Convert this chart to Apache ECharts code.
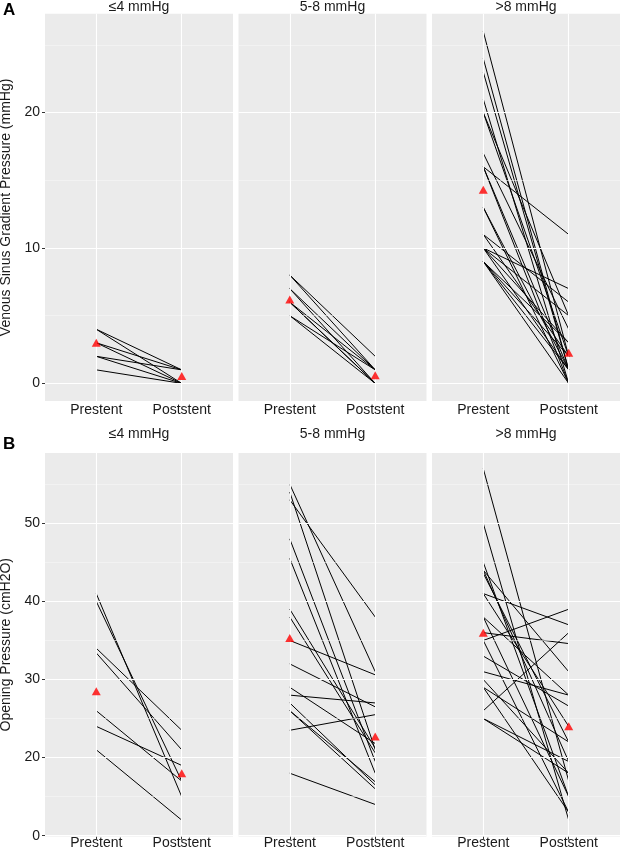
<!DOCTYPE html>
<html><head><meta charset="utf-8">
<script src="https://cdn.jsdelivr.net/npm/echarts@6/dist/echarts.min.js"></script>
<style>html,body{margin:0;padding:0;background:#fff}#c{width:622px;height:851px}</style>
</head><body><div id="c"></div>
<script>
// ---- data ----
const categories = ['Prestent', 'Poststent'];
const groups = ['≤4 mmHg', '5-8 mmHg', '>8 mmHg'];

// A: venous sinus gradient pressure (mmHg)
const vsgTicks = [0, 10, 20];
const vsgTickLabels = ['0', '10', '20'];
const vsgMinor = [5, 15, 25];
const vsgLowPre   = [4, 4, 3, 3, 2, 2, 1];
const vsgLowPost  = [1, 0, 1, 0, 1, 0, 0];
const vsgMidPre   = [8, 8, 7, 7, 6, 6, 6, 5, 5];
const vsgMidPost  = [2, 1, 1, 0, 1, 0, 0, 1, 0];
const vsgHighPre  = [26, 24, 23, 21, 20, 20, 17, 16, 16, 16, 13, 13, 11, 11, 10, 10, 10, 10, 9, 9, 9, 9];
const vsgHighPost = [2, 1, 1, 0, 2, 5, 4, 11, 1, 0, 0, 1, 6, 2, 7, 5, 1, 3, 3, 0, 1, 2];
const vsgMeanPre  = [3.0, 6.2, 14.3];
const vsgMeanPost = [0.55, 0.6, 2.26];

// B: opening pressure (cmH2O)
const opTicks = [10, 20, 30, 40, 50];
const opTickLabels = ['0', '20', '30', '40', '50'];
const opMinor = [15, 25, 35, 45, 55];
const opLowPre   = [41, 40, 34, 33.4, 26, 24, 21];
const opLowPost  = [15, 17, 23.5, 21, 17, 19, 12];
const opMidPre   = [55, 54, 53, 48, 45.5, 39, 38, 35, 32, 29, 28, 27, 26, 26, 23.5, 18];
const opMidPost  = [31, 21, 38, 19.5, 18, 21.2, 20.6, 30.6, 26.5, 21.8, 27, 16.5, 16, 16.9, 25.5, 14];
const opHighPre  = [57, 50, 45, 44, 44, 43.6, 41, 41, 38, 38, 36, 35, 35, 33, 31, 30, 29, 29, 26, 25, 25];
const opHighPost = [17, 12, 15, 19.5, 31, 22, 37, 24, 28, 15, 34.6, 39, 13, 26.6, 28, 18, 13, 22, 36, 18, 19.5];
const opMeanPre  = [28.5, 35.3, 36.0];
const opMeanPost = [18.0, 22.7, 24.0];

// ---- layout ----
const FONT = '"Liberation Sans", Arial, Helvetica, sans-serif';
const TXT = '#1a1a1a';
const FS = 14;
const colLeft = [45, 238.5, 432];
const panelW = 188;
const rows = [
  { top: 13.8, height: 387.2, min: -1.3, max: 27.3, ticks: vsgTicks, labels: vsgTickLabels, minor: vsgMinor,
    name: 'Venous Sinus Gradient Pressure (mmHg)', xMargin: 2,
    pre: [vsgLowPre, vsgMidPre, vsgHighPre], post: [vsgLowPost, vsgMidPost, vsgHighPost],
    meanPre: vsgMeanPre, meanPost: vsgMeanPost, stripY: 7.5, letter: 'A', letterY: 10 },
  { top: 453, height: 383.5, min: 9.9, max: 59.0, ticks: opTicks, labels: opTickLabels, minor: opMinor,
    name: 'Opening Pressure (cmH2O)', xMargin: 0,
    pre: [opLowPre, opMidPre, opHighPre], post: [opLowPost, opMidPost, opHighPost],
    meanPre: opMeanPre, meanPost: opMeanPost, stripY: 434, letter: 'B', letterY: 444 }
];

const grid = [], xAxis = [], yAxis = [], series = [], graphic = [];
rows.forEach((row, r) => {
  graphic.push({ type: 'text', x: 3, y: row.letterY,
    style: { text: row.letter, font: 'bold 17px ' + FONT, fill: '#000', textAlign: 'left', textVerticalAlign: 'middle', align: 'left', verticalAlign: 'middle' } });
  for (let c = 0; c < 3; c++) {
    const g = r * 3 + c;
    grid.push({ left: colLeft[c], top: row.top, width: panelW, height: row.height, show: true,
      backgroundColor: '#EBEBEB', borderWidth: 0, containLabel: false, outerBoundsMode: 'none' });
    graphic.push({ type: 'text', x: colLeft[c] + panelW / 2, y: row.stripY,
      style: { text: groups[c], font: FS + 'px ' + FONT, fill: TXT, textAlign: 'center', textVerticalAlign: 'middle', align: 'center', verticalAlign: 'middle' } });
    xAxis.push({ type: 'value', gridIndex: g, min: 0.4, max: 2.6,
      axisLine: { show: false }, splitLine: { show: false },
      axisTick: { show: true, customValues: [1, 2], length: 3, lineStyle: { color: '#333', width: 1 } },
      axisLabel: { show: true, customValues: [1, 2], formatter: v => categories[Math.round(v) - 1] || '',
        color: TXT, fontSize: FS, margin: row.xMargin, fontFamily: FONT } });
    yAxis.push({ type: 'value', gridIndex: g, min: row.min, max: row.max,
      axisLine: { show: false }, splitLine: { show: false },
      axisTick: { show: c === 0, customValues: row.ticks, length: 3, lineStyle: { color: '#333', width: 1 } },
      axisLabel: { show: c === 0, customValues: row.ticks, margin: 5,
        formatter: v => { const i = row.ticks.indexOf(v); return i >= 0 ? row.labels[i] : ''; },
        color: TXT, fontSize: FS, fontFamily: FONT },
      name: c === 0 ? row.name : '', nameLocation: 'middle', nameGap: 32,
      nameTextStyle: { fontSize: FS, color: TXT, fontFamily: FONT } });
    // gridlines
    const ml = [];
    row.minor.forEach(v => ml.push({ yAxis: v, lineStyle: { color: '#F7F7F7', width: 0.6, type: 'solid' } }));
    row.ticks.forEach(v => ml.push({ yAxis: v, lineStyle: { color: '#FFFFFF', width: 1.1, type: 'solid' } }));
    [1, 2].forEach(v => ml.push({ xAxis: v, lineStyle: { color: '#FFFFFF', width: 1.1, type: 'solid' } }));
    series.push({ type: 'line', xAxisIndex: g, yAxisIndex: g, data: [], silent: true, z: 1,
      markLine: { silent: true, symbol: ['none', 'none'], animation: false, label: { show: false }, data: ml } });
    // subject lines
    const pre = row.pre[c], post = row.post[c];
    pre.forEach((p, i) => {
      series.push({ type: 'line', xAxisIndex: g, yAxisIndex: g, data: [[1, p], [2, post[i]]],
        symbol: 'none', silent: true, z: 3, lineStyle: { color: '#000', width: 1 } });
    });
    // means
    series.push({ type: 'scatter', xAxisIndex: g, yAxisIndex: g, z: 5, silent: true,
      data: [[1, row.meanPre[c]], [2, row.meanPost[c]]],
      symbol: 'triangle', symbolSize: [9, 8], itemStyle: { color: '#FF0000' } });
  }
});

const chart = echarts.init(document.getElementById('c'), null, { renderer: 'canvas' });
chart.setOption({ animation: false, backgroundColor: '#fff', grid, xAxis, yAxis, series, graphic });
</script>
</body></html>
